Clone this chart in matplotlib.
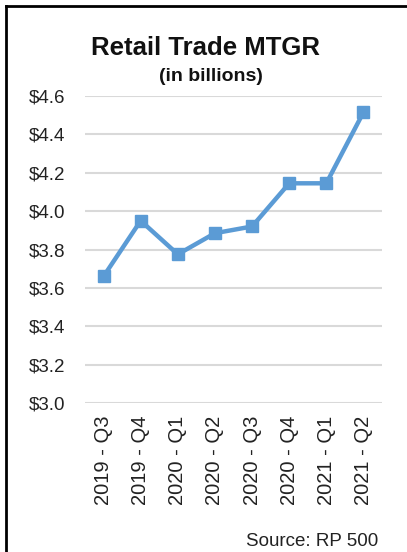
import matplotlib.pyplot as plt
from matplotlib.lines import Line2D

plt.rcParams['font.family'] = ['Liberation Sans', 'DejaVu Sans']

# quarters and values (billions)
quarters = ["2019 - Q3", "2019 - Q4", "2020 - Q1", "2020 - Q2",
            "2020 - Q3", "2020 - Q4", "2021 - Q1", "2021 - Q2"]
values = [3.66, 3.95, 3.775, 3.885, 3.92, 4.145, 4.145, 4.515]
yticks = [3.0, 3.2, 3.4, 3.6, 3.8, 4.0, 4.2, 4.4, 4.6]

fig = plt.figure(figsize=(4.07, 5.52), dpi=100)
ax = fig.add_axes([85 / 407, 149 / 552, 297 / 407, 307 / 552])

x = list(range(len(quarters)))
ax.plot(x, values, color="#5B9BD5", linewidth=3.2, marker="s",
        markersize=9, zorder=3)

ax.set_xlim(-0.5, len(quarters) - 0.5)
ax.set_ylim(3.0, 4.6)
ax.set_yticks(yticks)
ax.set_yticklabels(["$%.1f" % v for v in yticks], fontsize=13.5, color="#222222")
ax.set_xticks(x)
ax.set_xticklabels(quarters, rotation=90, fontsize=14.5, color="#222222")
ax.tick_params(axis="y", length=0, pad=14)
ax.tick_params(axis="x", length=0, pad=9)
ax.grid(axis="y", color="#D9D9D9", linewidth=1.5)
ax.set_axisbelow(True)
for s in ax.spines.values():
    s.set_visible(False)

# titles
fig.text(0.506, 0.9, "Retail Trade MTGR", ha="center", va="baseline",
         fontsize=18.5, fontweight="bold", color="#111111")
fig.text(0.518, 0.853, "(in billions)", ha="center", va="baseline",
         fontsize=14, fontweight="bold", color="#111111")

# source note
fig.text(378 / 407, 2 / 552, "Source: RP 500", ha="right", va="bottom",
         fontsize=13.5, color="#222222")

# frame (top and left edges visible)
fig.add_artist(Line2D([6 / 407, 1], [1 - 6 / 552, 1 - 6 / 552],
                      transform=fig.transFigure, color="black", linewidth=2))
fig.add_artist(Line2D([6 / 407, 6 / 407], [0, 1 - 6 / 552],
                      transform=fig.transFigure, color="black", linewidth=2))

plt.savefig("out.png", dpi=100)
